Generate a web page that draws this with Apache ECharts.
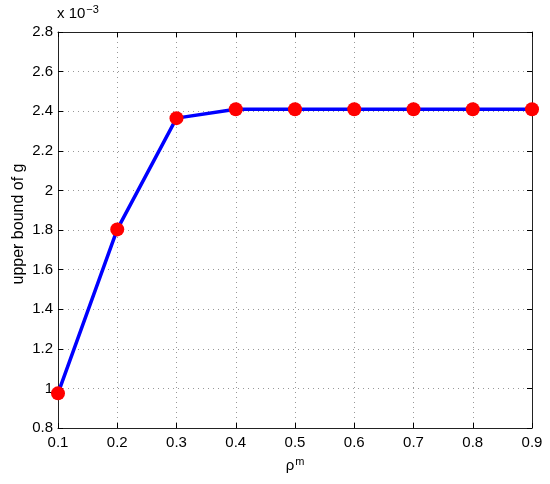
<!DOCTYPE html>
<html><head><meta charset="utf-8">
<script src="https://cdn.jsdelivr.net/npm/echarts@6/dist/echarts.min.js"></script>
<style>html,body{margin:0;padding:0;background:#fff}#c{width:550px;height:484px}</style>
</head><body><div id="c"></div>
<script>
var rhoM = [0.1, 0.2, 0.3, 0.4, 0.5, 0.6, 0.7, 0.8, 0.9];
var upperBoundG = [0.975, 1.803, 2.365, 2.41, 2.41, 2.41, 2.41, 2.41, 2.41]; // ×10^-3
var chart = echarts.init(document.getElementById('c'));
var font = 'Liberation Sans, Arial, sans-serif';
var fmt = function(v){ return String(+v.toFixed(1)); };
var axLine = {show:true, lineStyle:{color:'#222', width:1}};
var grid = {left:58, right:18, top:32, bottom:56};
chart.setOption({
  animation:false,
  grid: grid,
  xAxis:[{
    type:'value', min:0.1, max:0.9, interval:0.1,
    axisLine:axLine, axisTick:{show:true, inside:true, length:5, lineStyle:{color:'#000'}},
    axisLabel:{formatter:fmt, color:'#000', fontSize:15, fontFamily:font, margin:7},
    splitLine:{show:true, lineStyle:{color:'#999', type:[1,4], width:1}},
    name:'ρ{sup|m}', nameLocation:'middle', nameGap:28,
    nameTextStyle:{color:'#000', fontSize:15, fontFamily:font, rich:{sup:{fontSize:11, verticalAlign:'top', padding:[0,0,9,1], fontFamily:font}}}
  },{
    type:'value', position:'top', min:0.1, max:0.9, interval:0.1,
    axisLine:axLine, axisTick:{show:true, inside:true, length:5, lineStyle:{color:'#000'}},
    axisLabel:{show:false}, splitLine:{show:false}
  }],
  yAxis:[{
    type:'value', min:0.8, max:2.8, interval:0.2,
    axisLine:axLine, axisTick:{show:true, inside:true, length:5, lineStyle:{color:'#000'}},
    axisLabel:{formatter:fmt, color:'#000', fontSize:15, fontFamily:font, margin:5},
    splitLine:{show:true, lineStyle:{color:'#999', type:[1,4], width:1}}
  },{
    type:'value', position:'right', min:0.8, max:2.8, interval:0.2,
    axisLine:axLine, axisTick:{show:true, inside:true, length:5, lineStyle:{color:'#000'}},
    axisLabel:{show:false}, splitLine:{show:false}
  }],
  graphic:[{
    type:'text', left:57, top:4,
    style:{text:'{b|x 10}{sup|−3}', fill:'#000',
      rich:{b:{fontSize:15, fontFamily:font, color:'#000'},
            sup:{fontSize:11, fontFamily:font, color:'#000', verticalAlign:'top', padding:[0,0,9,1]}}}
  },{
    type:'text', x:19, y:224, rotation:Math.PI/2,
    style:{text:'upper bound of g', fill:'#000', fontSize:16, fontFamily:font, align:'center', verticalAlign:'middle'}
  }],
  series:[{
    type:'line', data: rhoM.map(function(x,i){return [x, upperBoundG[i]];}),
    lineStyle:{color:'#0000ff', width:3.5},
    symbol:'circle', symbolSize:14,
    itemStyle:{color:'#ff0000'},
    clip:false, z:5
  }]
});
</script></body></html>
